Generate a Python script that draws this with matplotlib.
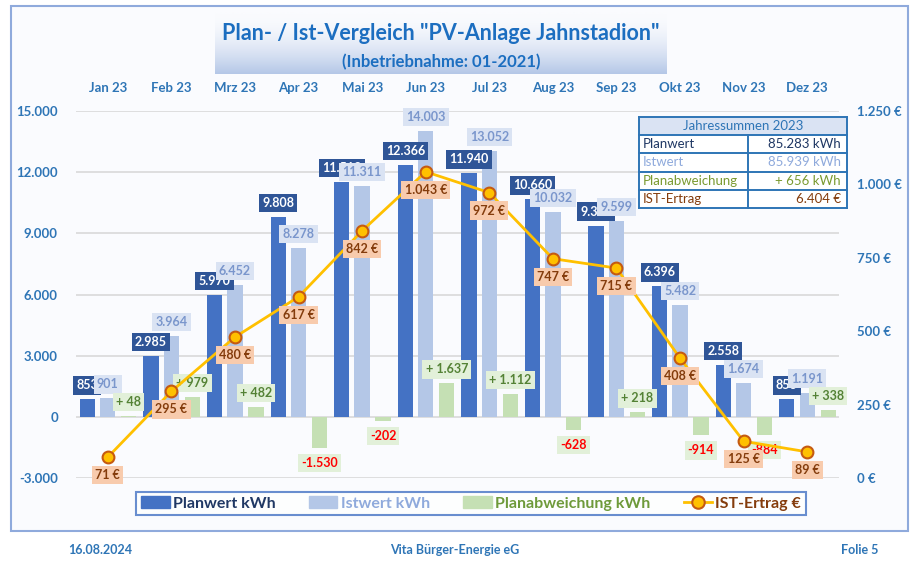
import numpy as np
import matplotlib
matplotlib.use("Agg")
import matplotlib.pyplot as plt
from matplotlib.patches import Rectangle, Patch
from matplotlib.lines import Line2D

plt.rcParams['font.family'] = ['Lato', 'DejaVu Sans']

months = ['Jan 23', 'Feb 23', 'Mrz 23', 'Apr 23', 'Mai 23', 'Jun 23',
          'Jul 23', 'Aug 23', 'Sep 23', 'Okt 23', 'Nov 23', 'Dez 23']
planwert = [853, 2985, 5970, 9808, 11513, 12366, 11940, 10660, 9381, 6396, 2558, 853]
istwert = [901, 3964, 6452, 8278, 11311, 14003, 13052, 10032, 9599, 5482, 1674, 1191]
abweichung = [48, 979, 482, -1530, -202, 1637, 1112, -628, 218, -914, -884, 338]
ertrag = [71, 295, 480, 617, 842, 1043, 972, 747, 715, 408, 125, 89]

left_ticks = [-3000, 0, 3000, 6000, 9000, 12000, 15000]
right_ticks = [0, 250, 500, 750, 1000, 1250]

table_rows = [('Planwert', '85.283 kWh', '#203864'),
              ('Istwert', '85.939 kWh', '#8FAADC'),
              ('Planabweichung', '+ 656 kWh', '#7A9A30'),
              ('IST-Ertrag', '6.404 €', '#843C0C')]

BLUE = '#2E75B6'
C_PLAN = '#4472C4'
C_IST = '#B4C7E7'
C_ABW = '#C5E0B4'


def de(v):
    return f"{v:,}".replace(',', '.')


def fx(px):
    return px / 910


def fy(py):
    return 1 - py / 561


fig = plt.figure(figsize=(9.1, 5.61), dpi=100)
fig.patch.set_facecolor('white')

# outer frame
fig.add_artist(Rectangle((fx(11), fy(531)), fx(908) - fx(11), fy(6) - fy(531),
                         transform=fig.transFigure, facecolor='#FAFBFE',
                         edgecolor='#8FAADC', lw=1.5, zorder=-5))

# title banner with gradient
bax = fig.add_axes([fx(215), fy(74), fx(667) - fx(215), fy(12) - fy(74)], zorder=-1)
grad = np.linspace(0, 1, 100).reshape(-1, 1) ** 1.8
bax.imshow(grad, aspect='auto', cmap=matplotlib.colors.LinearSegmentedColormap.from_list(
    'b', ['#FAFBFE', '#B4C7E7']), extent=[0, 1, 0, 1], origin='upper')
bax.axis('off')
fig.text(fx(441), fy(33), 'Plan- / Ist-Vergleich "PV-Anlage Jahnstadion"',
         ha='center', va='center', fontsize=15.5, fontweight='bold', color='#1C6EC0')
fig.text(fx(441), fy(62), '(Inbetriebnahme: 01-2021)', ha='center', va='center',
         fontsize=12, fontweight='bold', color='#1C6EC0')

ax = fig.add_axes([fx(76), fy(478), fx(839) - fx(76), fy(111) - fy(478)])
ax.set_facecolor('none')
x = np.arange(len(months))
ax.set_xlim(-0.5, 11.5)
ax.set_ylim(-3000, 15000)
for t in left_ticks:
    ax.axhline(t, color='#D9D9D9', lw=1.2, zorder=0)

w = 0.24
ax.bar(x - 0.32, planwert, w, color=C_PLAN, zorder=2)
ax.bar(x, istwert, w, color=C_IST, zorder=2)
ax.bar(x + 0.33, abweichung, w, color=C_ABW, zorder=2)

for i in x:
    ax.annotate(de(planwert[i]), (i - 0.32, planwert[i]), xytext=(0, 8),
                textcoords='offset pixels', ha='center', va='bottom', fontsize=9,
                fontweight='bold', color='white', zorder=3,
                bbox=dict(boxstyle='square,pad=0.25', fc='#2F5597', ec='none'))
for i in x:
    ax.annotate(de(istwert[i]), (i, istwert[i]), xytext=(0, 8),
                textcoords='offset pixels', ha='center', va='bottom', fontsize=9,
                fontweight='bold', color='#7A96CC', zorder=4,
                bbox=dict(boxstyle='square,pad=0.25', fc='#DAE3F3', ec='none'))
for i in x:
    v = abweichung[i]
    if v >= 0:
        txt, col, off, va = '+ ' + de(v), '#548235', 8, 'bottom'
    else:
        txt, col, off, va = de(v), '#FF0000', -9, 'top'
    ax.annotate(txt, (i + 0.33, v), xytext=(0, off), textcoords='offset pixels',
                ha='center', va=va, fontsize=9, fontweight='bold', color=col, zorder=5,
                bbox=dict(boxstyle='square,pad=0.25', fc='#E2F0D9', ec='none'))

ax.set_xticks([])
ax.set_yticks(left_ticks)
ax.set_yticklabels([de(t) for t in left_ticks])
ax.tick_params(axis='y', length=0, pad=13, labelcolor=BLUE, labelsize=9.5)
for lbl in ax.get_yticklabels():
    lbl.set_fontweight('bold')
for s in ax.spines.values():
    s.set_visible(False)

month_y = 15000 + 23 / 367 * 18000
for i, m in enumerate(months):
    ax.text(i, month_y, m, ha='center', va='center',
            fontsize=9.5, fontweight='bold', color=BLUE)

ax2 = ax.twinx()
ax2.set_ylim(0, 1250)
ax2.plot(x, ertrag, color='#FFC000', lw=2, marker='o', markersize=8.5,
         markerfacecolor='#FFC000', markeredgecolor='#C55A11', markeredgewidth=1.5, zorder=3)
for i in x:
    ax2.annotate(de(ertrag[i]) + ' €', (i, ertrag[i]), xytext=(0, -12),
                 textcoords='offset pixels', ha='center', va='top', fontsize=9,
                 fontweight='bold', color='#843C0C', zorder=4,
                 bbox=dict(boxstyle='square,pad=0.25', fc='#F8CBAD', ec='none'))
ax2.set_yticks(right_ticks)
ax2.set_yticklabels([de(t) + ' €' for t in right_ticks])
ax2.tick_params(axis='y', length=0, pad=13, labelcolor=BLUE, labelsize=9.5)
for lbl in ax2.get_yticklabels():
    lbl.set_fontweight('bold')
for s in ax2.spines.values():
    s.set_visible(False)

# summary table
tx0, tx1, tsplit = 639, 847, 748
ty = [117, 135, 153, 172, 190, 208]
fig.add_artist(Rectangle((fx(tx0), fy(ty[1])), fx(tx1) - fx(tx0), fy(ty[0]) - fy(ty[1]),
                         transform=fig.transFigure, fc='#DAE3F3', ec='none', zorder=6))
fig.add_artist(Rectangle((fx(tx0), fy(ty[-1])), fx(tx1) - fx(tx0), fy(ty[1]) - fy(ty[-1]),
                         transform=fig.transFigure, fc='white', ec='none', zorder=6))
for yy in ty:
    fig.add_artist(Line2D([fx(tx0), fx(tx1)], [fy(yy), fy(yy)], transform=fig.transFigure,
                          color=BLUE, lw=1.4, zorder=7))
for xx in (tx0, tx1):
    fig.add_artist(Line2D([fx(xx), fx(xx)], [fy(ty[0]), fy(ty[-1])], transform=fig.transFigure,
                          color=BLUE, lw=1.4, zorder=7))
fig.add_artist(Line2D([fx(tsplit), fx(tsplit)], [fy(ty[1]), fy(ty[-1])],
                      transform=fig.transFigure, color=BLUE, lw=1.4, zorder=7))
fig.text(fx((tx0 + tx1) / 2), fy((ty[0] + ty[1]) / 2), 'Jahressummen 2023', ha='center',
         va='center', fontsize=9.5, color=BLUE, zorder=8)
for k, (name, val, col) in enumerate(table_rows):
    yc = fy((ty[k + 1] + ty[k + 2]) / 2)
    fig.text(fx(tx0 + 4), yc, name, ha='left', va='center', fontsize=9.5, color=col, zorder=8)
    fig.text(fx(tx1 - 6), yc, val, ha='right', va='center', fontsize=9.5, color=col, zorder=8)

# legend
handles = [Patch(color=C_PLAN), Patch(color=C_IST), Patch(color=C_ABW),
           Line2D([0], [0], color='#FFC000', lw=2, marker='o', markersize=9,
                  markerfacecolor='#FFC000', markeredgecolor='#C55A11', markeredgewidth=1.5)]
labels = ['Planwert kWh', 'Istwert kWh', 'Planabweichung kWh', 'IST-Ertrag €']
leg = fig.legend(handles, labels, ncol=4, loc='center',
                 bbox_to_anchor=(fx(128), fy(518), fx(814) - fx(128), fy(489) - fy(518)),
                 mode='expand', frameon=True, fancybox=False,
                 prop={'size': 11.5, 'weight': 'bold'},
                 handlelength=1.8, handleheight=0.7, handletextpad=0.2, borderpad=0.3,
                 columnspacing=1.5)
leg.get_frame().set_edgecolor(C_PLAN)
leg.get_frame().set_linewidth(1.5)
for t, c in zip(leg.get_texts(), ['#203864', '#8FAADC', '#6E9A3A', '#843C0C']):
    t.set_color(c)

# footer
fig.text(fx(100), fy(550), '16.08.2024', ha='center', va='center', fontsize=9,
         fontweight='bold', color=BLUE)
fig.text(fx(455), fy(550), 'Vita Bürger-Energie eG', ha='center', va='center', fontsize=9,
         fontweight='bold', color=BLUE)
fig.text(fx(860), fy(550), 'Folie 5', ha='center', va='center', fontsize=9,
         fontweight='bold', color=BLUE)

fig.savefig('out.png', dpi=100)
